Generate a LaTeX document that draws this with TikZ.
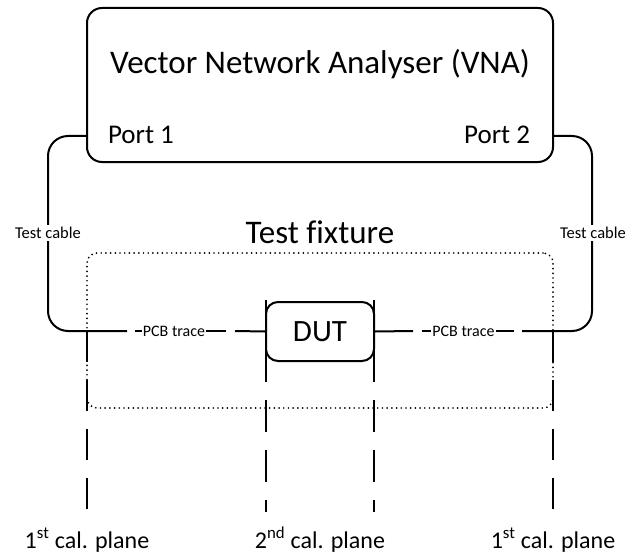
\documentclass[tikz,border=0pt]{standalone}
\usepackage{fontspec}
\setmainfont{Carlito}[Ligatures=CommonOff]
\begin{document}
\begin{tikzpicture}[x=1pt,y=-1pt,line width=2pt,
  fs/.style={font=\fontsize{#1}{#1}\selectfont},
  vnabox/.style={draw,rounded corners=15pt,minimum width=466pt,minimum height=154pt,inner sep=0pt},
  dutbox/.style={draw,fill=white,rounded corners=12pt,minimum width=108pt,minimum height=59pt,inner sep=0pt,fs=31},
  fixbox/.style={draw,line width=1.9pt,line cap=round,dash pattern=on 0pt off 4.7pt,rounded corners=10pt,minimum width=466pt,minimum height=155pt,inner sep=0pt},
  cablelbl/.style={fill=white,inner sep=2pt,fs=16.5},
  pcblbl/.style={inner sep=0pt,fs=16},
  plane/.style={dash pattern=on 31pt off 18pt},
  plane2/.style={dash pattern=on 32pt off 18pt},
]
\useasboundingbox (0,0) rectangle (628,556);

% test fixture (dotted)
\node[fixbox] (fix) at (320,330.5) {};
\node[fs=33,anchor=base] (fixlbl) at (320,243) {Test fixture};

% VNA
\node[vnabox] (vna) at (320,85) {};
\node[fs=33,anchor=base] (title) at (320,74) {Vector Network Analyser (VNA)};
\node[fs=27,anchor=base west,inner sep=0pt] (port1) at (107,144) {Port 1};
\node[fs=27,anchor=base east,inner sep=0pt] (port2) at (531,144) {Port 2};

% DUT
\node[dutbox] (dut) at (320,331.5) {DUT};

% coordinates
\coordinate (p1) at (87,136);
\coordinate (p2) at (553,136);
\coordinate (c1a) at (48,136);
\coordinate (c1b) at (48,331);
\coordinate (c2a) at (592,136);
\coordinate (c2b) at (592,331);
\coordinate (l1end) at (127,331);
\coordinate (r1end) at (522,331);
\coordinate (lin) at (235,331);
\coordinate (rout) at (413,331);

% cables
\draw[rounded corners=20pt] (p1) -- (c1a) -- (c1b) -- (l1end);
\draw[rounded corners=20pt] (p2) -- (c2a) -- (c2b) -- (r1end);
\node[cablelbl] (tc1) at (48,233) {Test cable};
\node[cablelbl] (tc2) at (593,233) {Test cable};

% PCB traces
\node[pcblbl] (pcb1) at (174,331) {PCB trace};
\node[pcblbl] (pcb2) at (463.5,331) {PCB trace};
\draw ([xshift=-7pt]pcb1.west) -- (pcb1.west);
\draw (pcb1.east) -- ([xshift=20pt]pcb1.east);
\draw (lin) -- (dut.west);
\draw (dut.east) -- (rout);
\draw ([xshift=-9pt]pcb2.west) -- (pcb2.west);
\draw (pcb2.east) -- ([xshift=18pt]pcb2.east);

% calibration planes
\coordinate (a1) at (87,331);   \coordinate (a2) at (87,510);
\coordinate (b1) at (553,331);  \coordinate (b2) at (553,510);
\coordinate (d1) at (266,300);  \coordinate (d2) at (266,382);  \coordinate (d3) at (266,400); \coordinate (d4) at (266,512);
\coordinate (e1) at (374,300);  \coordinate (e2) at (374,382);  \coordinate (e3) at (374,400); \coordinate (e4) at (374,512);
\draw[plane] (a1) -- (a2);
\draw[plane] (b1) -- (b2);
\draw (d1) -- (d2);
\draw (e1) -- (e2);
\draw[plane2] (d3) -- (d4);
\draw[plane2] (e3) -- (e4);

\node[fs=24,anchor=base] (cp1) at (87,548) {1\textsuperscript{st} cal. plane};
\node[fs=24,anchor=base] (cp2) at (320,548) {2\textsuperscript{nd} cal. plane};
\node[fs=24,anchor=base] (cp3) at (553,548) {1\textsuperscript{st} cal. plane};
\end{tikzpicture}
\end{document}
